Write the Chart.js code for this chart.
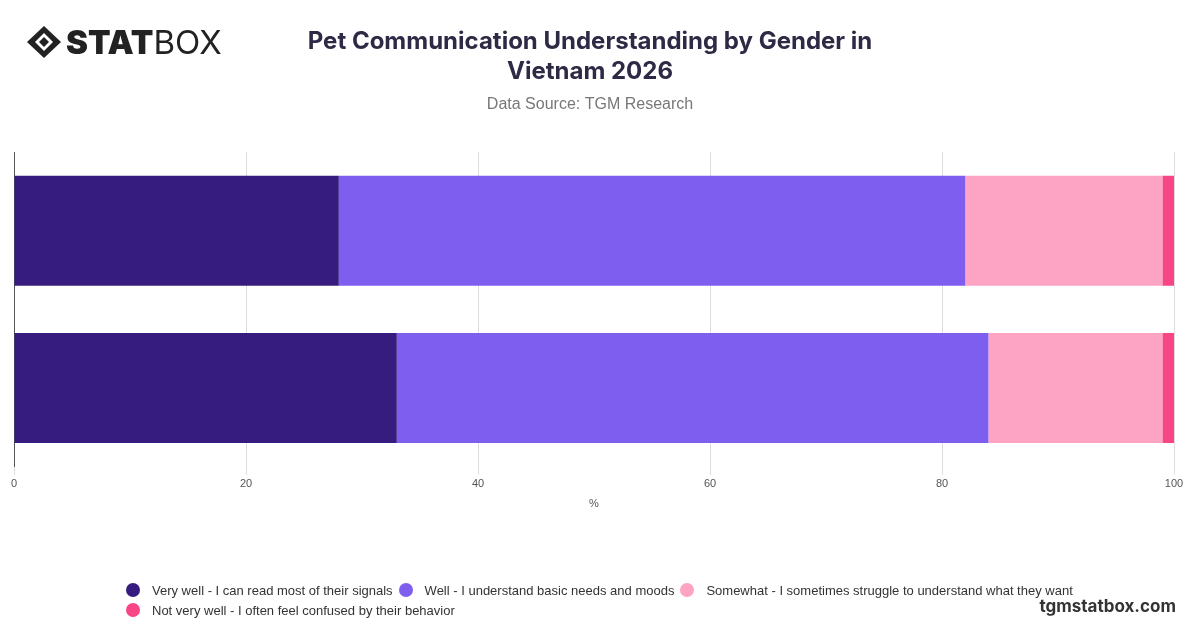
<!DOCTYPE html>
<html><head><meta charset="utf-8">
<script src="https://cdn.jsdelivr.net/npm/chart.js@4"></script>
<style>
body{margin:0;width:1200px;height:628px;background:#fff;font-family:Inter,"Noto Sans",sans-serif;overflow:hidden;position:relative}
#wrap{position:absolute;left:0;top:0;width:1200px;height:628px}
#logo{position:absolute;left:26px;top:22px;display:flex;align-items:center;font-size:33px;color:#222}
#logo b{font-weight:900}
#foot{position:absolute;right:24px;bottom:12px;font-weight:700;font-size:17px;color:#333}
#leg{position:absolute;left:126px;top:580px;width:1000px;font-size:13px;color:#333;font-family:"Liberation Sans",Arial,sans-serif}
#leg span.it{display:inline-flex;align-items:center;margin-right:6px;height:20px}
#leg i{display:inline-block;width:14px;height:14px;border-radius:50%;margin-right:12px}
</style></head><body>
<div id="wrap"><canvas id="c" width="1200" height="628"></canvas></div>
<div id="logo"><svg width="36" height="34" viewBox="0 0 36 34"><path d="M18 1 L35 17 L18 33 L1 17 Z" fill="#222"/><path d="M18 8 L27 17 L18 26 L9 17 Z" fill="#fff"/><path d="M18 12 L23 17 L18 22 L13 17 Z" fill="#222"/></svg><b style="margin-left:4px">STAT</b><span>BOX</span></div>
<div id="leg"></div>
<div id="foot">tgmstatbox.com</div>
<script>
const categories=["Male","Female"];
const seriesNames=["Very well - I can read most of their signals","Well - I understand basic needs and moods","Somewhat - I sometimes struggle to understand what they want","Not very well - I often feel confused by their behavior"];
const veryWell=[28,33];
const well=[54,51];
const somewhat=[17,15];
const notVeryWell=[1,1];
const colors=["#371c80","#7e5eef","#fda4c4","#f74586"];
const vals=[veryWell,well,somewhat,notVeryWell];
const leg=document.getElementById('leg');
seriesNames.forEach((n,i)=>{leg.innerHTML+=`<span class="it"><i style="background:${colors[i]}"></i>${n}</span>`+(i==2?'<br>':'');});
new Chart(document.getElementById('c'),{type:'bar',
data:{labels:categories,datasets:seriesNames.map((n,i)=>({label:n,data:vals[i],backgroundColor:colors[i],borderWidth:0,barPercentage:0.875,categoryPercentage:0.8}))},
options:{indexAxis:'y',responsive:false,animation:false,
layout:{padding:{left:6,right:26,top:27,bottom:113}},
scales:{x:{stacked:true,min:0,max:100,ticks:{stepSize:20,color:'#555',font:{size:11}},grid:{color:'#ddd',drawTicks:true,tickLength:8},border:{display:false},title:{display:true,text:'%',color:'#555',font:{size:11}}},
y:{stacked:true,ticks:{display:false},grid:{display:false},border:{color:'#555',width:1}}},
plugins:{title:{display:true,text:['Pet Communication Understanding by Gender in','Vietnam 2026'],color:'#2e2a45',font:{size:24,weight:'bold',family:'Inter',lineHeight:1.25},padding:{bottom:8}},
subtitle:{display:true,text:'Data Source: TGM Research',color:'#777',font:{size:16},padding:{bottom:38}},
legend:{display:false},
tooltip:{enabled:false}}}});
</script></body></html>
